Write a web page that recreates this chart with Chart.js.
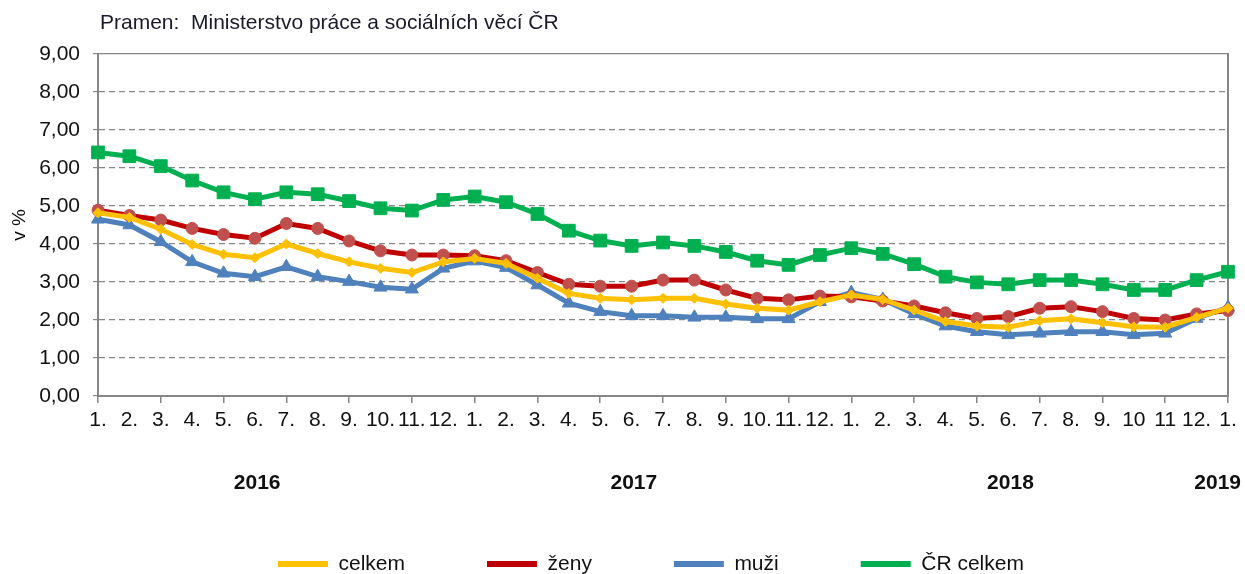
<!DOCTYPE html>
<html lang="cs">
<head>
    <meta charset="UTF-8">
    <title>Míra nezaměstnanosti</title>
    <script src="https://cdn.jsdelivr.net/npm/chart.js"></script>
    <style>
        body {
            margin: 0;
            background: #ffffff;
        }

        #chartContainer {
            width: 1245px;
            height: 574px;
        }
    </style>
</head>
<body>

<div id="chartContainer">
    <canvas id="rateChart" width="1245" height="574"></canvas>
</div>

<script>
    // months 1/2016 .. 1/2019
    const monthLabels = [
        '1.', '2.', '3.', '4.', '5.', '6.', '7.', '8.', '9.', '10.', '11.', '12.',
        '1.', '2.', '3.', '4.', '5.', '6.', '7.', '8.', '9.', '10.', '11.', '12.',
        '1.', '2.', '3.', '4.', '5.', '6.', '7.', '8.', '9.', '10', '11', '12.',
        '1.'
    ];
    const years = ['2016', '2017', '2018', '2019'];
    const yearStart = [0, 12, 24, 36];   // index of first month of each year

    const celkem = [4.82, 4.70, 4.39, 3.99, 3.73, 3.64, 4.00, 3.75, 3.53, 3.36, 3.25, 3.53,
                    3.62, 3.49, 3.10, 2.70, 2.57, 2.53, 2.57, 2.57, 2.42, 2.31, 2.26, 2.48,
                    2.66, 2.54, 2.26, 1.96, 1.84, 1.81, 1.98, 2.03, 1.93, 1.82, 1.81, 2.07,
                    2.31];
    const zeny = [4.89, 4.75, 4.63, 4.41, 4.25, 4.15, 4.54, 4.41, 4.08, 3.82, 3.71, 3.71,
                  3.69, 3.56, 3.25, 2.94, 2.89, 2.89, 3.05, 3.05, 2.79, 2.57, 2.53, 2.63,
                  2.61, 2.50, 2.37, 2.19, 2.04, 2.09, 2.31, 2.35, 2.22, 2.04, 2.00, 2.16,
                  2.25];
    const muzi = [4.65, 4.50, 4.06, 3.53, 3.23, 3.14, 3.40, 3.14, 3.01, 2.86, 2.81, 3.36,
                  3.55, 3.38, 2.92, 2.44, 2.22, 2.11, 2.11, 2.07, 2.07, 2.03, 2.03, 2.48,
                  2.72, 2.54, 2.16, 1.84, 1.69, 1.61, 1.65, 1.69, 1.69, 1.61, 1.65, 2.04,
                  2.33];
    const crCelkem = [6.41, 6.31, 6.05, 5.67, 5.36, 5.18, 5.36, 5.31, 5.13, 4.94, 4.88, 5.16,
                      5.25, 5.10, 4.79, 4.35, 4.09, 3.95, 4.04, 3.95, 3.79, 3.56, 3.45, 3.71,
                      3.89, 3.74, 3.47, 3.14, 2.99, 2.94, 3.05, 3.05, 2.94, 2.79, 2.79, 3.05,
                      3.27];

    const FONT = "'Liberation Sans', Arial, sans-serif";
    const AXIS = '#868686';

    Chart.defaults.font.family = FONT;
    Chart.defaults.font.size = 21;
    Chart.defaults.color = '#111111';

    // year captions under the month labels
    const yearLabelsPlugin = {
        id: 'yearLabels',
        afterDraw(chart) {
            const x = chart.scales.x;
            const c = chart.ctx;
            c.save();
            c.font = 'bold 21px ' + FONT;
            c.fillStyle = '#111111';
            c.textAlign = 'center';
            c.textBaseline = 'middle';
            years.forEach((y, i) => {
                const half = c.measureText(y).width / 2;
                let px = x.getPixelForValue(yearStart[i] + 5.07);
                px = Math.min(px, chart.width - 4 - half);
                c.fillText(y, px, x.top + 87);
            });
            c.restore();
        }
    };

    // Excel-like placement of the source note and the legend
    const placementPlugin = {
        id: 'placement',
        afterLayout(chart) {
            chart.titleBlock.left = 100;
            chart.legend.left = 278 - chart.legend.options.labels.padding;
        }
    };

    function series(label, values, line, marker, style, radius) {
        return {
            label: label,
            data: values,
            borderColor: line,
            backgroundColor: line,
            borderWidth: 5,
            pointStyle: style,
            pointRadius: radius,
            pointHoverRadius: radius,
            pointBackgroundColor: marker,
            pointBorderColor: marker,
            pointBorderWidth: 1,
            tension: 0,
            fill: false
        };
    }

    const ctx = document.getElementById('rateChart').getContext('2d');
    const chart = new Chart(ctx, {
        type: 'line',
        data: {
            labels: monthLabels,
            datasets: [
                series('celkem', celkem, '#FFC000', '#FFC000', 'rectRot', 5),
                series('ženy', zeny, '#C00000', '#C0504D', 'circle', 6),
                series('muži', muzi, '#4F81BD', '#4F81BD', 'triangle', 7.5),
                series('ČR celkem', crCelkem, '#00B050', '#00B050', 'rect', 9)
            ]
        },
        options: {
            responsive: false,
            animation: false,
            layout: {
                padding: { left: 4, right: 17, top: 0, bottom: -10.5 }
            },
            plugins: {
                title: {
                    display: true,
                    text: 'Pramen:  Ministerstvo práce a sociálních věcí ČR',
                    align: 'start',
                    color: '#1a1a2a',
                    font: { size: 21, weight: 'normal' },
                    padding: { top: 11, bottom: 17.8 }
                },
                legend: {
                    position: 'bottom',
                    align: 'start',
                    labels: {
                        boxWidth: 50,
                        boxHeight: 6,
                        padding: 82,
                        color: '#111111',
                        font: { size: 21 },
                        generateLabels(chart) {
                            const items = Chart.defaults.plugins.legend.labels.generateLabels(chart);
                            items.forEach(it => { it.lineWidth = 0; });
                            return items;
                        }
                    }
                },
                tooltip: { enabled: false }
            },
            scales: {
                x: {
                    offset: false,
                    grid: {
                        display: true,
                        drawOnChartArea: false,
                        drawTicks: true,
                        tickLength: 7,
                        lineWidth: 1.5,
                        color: (c) => c.index % 2 === 0 ? AXIS : 'rgba(0,0,0,0)'
                    },
                    border: { display: true, color: AXIS, width: 2 },
                    ticks: {
                        autoSkip: false,
                        maxRotation: 0,
                        minRotation: 0,
                        padding: 5,
                        color: '#111111'
                    },
                    afterFit(scale) {
                        scale.height = 75.5;
                        scale.paddingLeft = 0;
                        scale.paddingRight = 0;
                    }
                },
                y: {
                    min: 0,
                    max: 9,
                    ticks: {
                        stepSize: 1,
                        padding: 13,
                        color: '#111111',
                        callback: (v) => v.toFixed(2).replace('.', ',')
                    },
                    grid: {
                        color: AXIS,
                        lineWidth: 1.2,
                        tickLength: 5,
                        tickColor: AXIS
                    },
                    border: {
                        display: true,
                        color: AXIS,
                        width: 2,
                        dash: (c) => (c.tick && c.tick.value === 9) ? [] : [6, 4]
                    },
                    title: {
                        display: true,
                        text: 'v %',
                        color: '#111111',
                        font: { size: 19 },
                        padding: { top: 4, bottom: 0 }
                    },
                    afterFit(scale) {
                        scale.width = 94;
                    }
                },
                y2: {
                    position: 'right',
                    min: 0,
                    max: 9,
                    grid: { display: false },
                    ticks: { display: false },
                    border: { display: true, color: AXIS, width: 2 },
                    afterFit(scale) {
                        scale.width = 0;
                    }
                }
            }
        },
        plugins: [yearLabelsPlugin, placementPlugin]
    });
</script>

</body>
</html>
